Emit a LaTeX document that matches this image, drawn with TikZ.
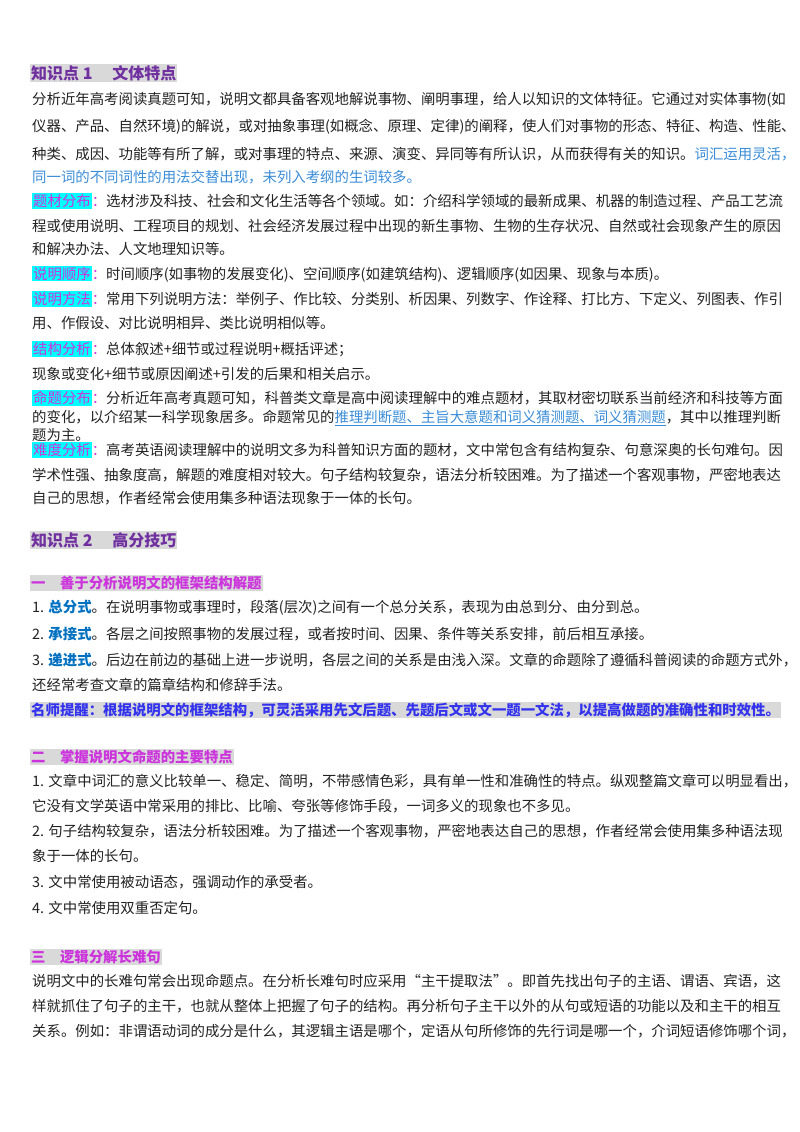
\documentclass[tikz,border=0pt]{standalone}
\usepackage{fontspec}
\setmainfont{Noto Sans CJK SC}
\usepackage{xcolor}
\usetikzlibrary{positioning}
\definecolor{headpurple}{HTML}{7030A0}
\definecolor{hlgray}{HTML}{D9D9D9}
\definecolor{keycyan}{HTML}{00FFFF}
\definecolor{keymag}{HTML}{CC33DD}
\definecolor{linkblue}{HTML}{3A8DD8}
\definecolor{boldblue}{HTML}{0070C0}
\definecolor{tipblue}{HTML}{3333EE}
\definecolor{bodytext}{HTML}{222222}
\newcommand{\bodyfs}{\fontsize{14.4}{17}\selectfont}
\newcommand{\hlbox}[2]{{\setlength{\fboxsep}{1pt}\colorbox{#1}{#2}}}
\newcommand{\keyterm}[1]{\hlbox{keycyan}{\textcolor{keymag}{#1}}\textcolor{keymag}{：}}
\newcommand{\itemkey}[1]{\textcolor{boldblue}{\textbf{#1}}}

\begin{document}
\begin{tikzpicture}[
  x=1pt, y=1pt,
  line/.style={anchor=west, inner sep=0pt, font=\bodyfs, text=bodytext},
  title/.style={anchor=west, inner sep=0pt, font=\fontsize{16}{19}\selectfont\bfseries, text=headpurple},
  section/.style={anchor=west, inner sep=0pt, font=\fontsize{14.4}{17}\selectfont\bfseries, text=keymag}
]
  \useasboundingbox[fill=white] (0,0) rectangle (800,-1132);

  % Knowledge point 1
  \node[title] (kp1) at (30,-73) {\hlbox{hlgray}{知识点 1\quad\ 文体特点}};
  \node[line] (p1a) at (32,-100) {分析近年高考阅读真题可知，说明文都具备客观地解说事物、阐明事理，给人以知识的文体特征。它通过对实体事物(如};
  \node[line] (p1b) at (32,-127) {仪器、产品、自然环境)的解说，或对抽象事理(如概念、原理、定律)的阐释，使人们对事物的形态、特征、构造、性能、};
  \node[line] (p1c) at (32,-154) {种类、成因、功能等有所了解，或对事理的特点、来源、演变、异同等有所认识，从而获得有关的知识。\textcolor{linkblue}{词汇运用灵活，}};
  \node[line, text=linkblue] (p1d) at (32,-177) {同一词的不同词性的用法交替出现，未列入考纲的生词较多。};

  \node[line] (p2a) at (32,-201) {\keyterm{题材分布}选材涉及科技、社会和文化生活等各个领域。如：介绍科学领域的最新成果、机器的制造过程、产品工艺流};
  \node[line] (p2b) at (32,-226) {程或使用说明、工程项目的规划、社会经济发展过程中出现的新生事物、生物的生存状况、自然或社会现象产生的原因};
  \node[line] (p2c) at (32,-249) {和解决办法、人文地理知识等。};

  \node[line] (p3a) at (32,-274) {\keyterm{说明顺序}时间顺序(如事物的发展变化)、空间顺序(如建筑结构)、逻辑顺序(如因果、现象与本质)。};

  \node[line] (p4a) at (32,-299) {\keyterm{说明方法}常用下列说明方法：举例子、作比较、分类别、析因果、列数字、作诠释、打比方、下定义、列图表、作引};
  \node[line] (p4b) at (32,-323) {用、作假设、对比说明相异、类比说明相似等。};

  \node[line] (p5a) at (32,-349) {\keyterm{结构分析}总体叙述+细节或过程说明+概括评述；};
  \node[line] (p5b) at (32,-374) {现象或变化+细节或原因阐述+引发的后果和相关启示。};

  \node[line] (p6a) at (32,-398) {\keyterm{命题分布}分析近年高考真题可知，科普类文章是高中阅读理解中的难点题材，其取材密切联系当前经济和科技等方面};
  \node[line] (p6b) at (32,-418) {的变化，以介绍某一科学现象居多。命题常见的\textcolor{linkblue}{\underline{推理判断题、主旨大意题和词义猜测题、词义猜测题}}，其中以推理判断};
  \node[line] (p6c) at (32,-435) {题为主。};

  \node[line] (p7a) at (32,-450) {\keyterm{难度分析}高考英语阅读理解中的说明文多为科普知识方面的题材，文中常包含有结构复杂、句意深奥的长句难句。因};
  \node[line] (p7b) at (32,-475) {学术性强、抽象度高，解题的难度相对较大。句子结构较复杂，语法分析较困难。为了描述一个客观事物，严密地表达};
  \node[line] (p7c) at (32,-498) {自己的思想，作者经常会使用集多种语法现象于一体的长句。};

  % Knowledge point 2
  \node[title] (kp2) at (30,-540) {\hlbox{hlgray}{知识点 2\quad\ 高分技巧}};

  \node[section] (s1) at (30,-583) {\hlbox{hlgray}{一\quad 善于分析说明文的框架结构解题}};
  \node[line] (s1a) at (32,-608) {1. \itemkey{总分式}。在说明事物或事理时，段落(层次)之间有一个总分关系，表现为由总到分、由分到总。};
  \node[line] (s1b) at (32,-634) {2. \itemkey{承接式}。各层之间按照事物的发展过程，或者按时间、因果、条件等关系安排，前后相互承接。};
  \node[line] (s1c) at (32,-660) {3. \itemkey{递进式}。后边在前边的基础上进一步说明，各层之间的关系是由浅入深。文章的命题除了遵循科普阅读的命题方式外，};
  \node[line] (s1d) at (32,-685) {还经常考查文章的篇章结构和修辞手法。};
  \node[line, font=\bodyfs\bfseries, text=tipblue] (tip) at (30,-710) {\hlbox{hlgray}{名师提醒：根据说明文的框架结构，可灵活采用先文后题、先题后文或文一题一文法，以提高做题的准确性和时效性。}};

  \node[section] (s2) at (30,-757) {\hlbox{hlgray}{二\quad 掌握说明文命题的主要特点}};
  \node[line] (s2a) at (32,-781) {1. 文章中词汇的意义比较单一、稳定、简明，不带感情色彩，具有单一性和准确性的特点。纵观整篇文章可以明显看出，};
  \node[line] (s2b) at (32,-806) {它没有文学英语中常采用的排比、比喻、夸张等修饰手段，一词多义的现象也不多见。};
  \node[line] (s2c) at (32,-831) {2. 句子结构较复杂，语法分析较困难。为了描述一个客观事物，严密地表达自己的思想，作者经常会使用集多种语法现};
  \node[line] (s2d) at (32,-856) {象于一体的长句。};
  \node[line] (s2e) at (32,-882) {3. 文中常使用被动语态，强调动作的承受者。};
  \node[line] (s2f) at (32,-908) {4. 文中常使用双重否定句。};

  \node[section] (s3) at (30,-957) {\hlbox{hlgray}{三\quad 逻辑分解长难句}};
  \node[line] (s3a) at (32,-981) {说明文中的长难句常会出现命题点。在分析长难句时应采用“主干提取法”。即首先找出句子的主语、谓语、宾语，这};
  \node[line] (s3b) at (32,-1006) {样就抓住了句子的主干，也就从整体上把握了句子的结构。再分析句子主干以外的从句或短语的功能以及和主干的相互};
  \node[line] (s3c) at (32,-1031) {关系。例如：非谓语动词的成分是什么，其逻辑主语是哪个，定语从句所修饰的先行词是哪一个，介词短语修饰哪个词，};
\end{tikzpicture}
\end{document}
